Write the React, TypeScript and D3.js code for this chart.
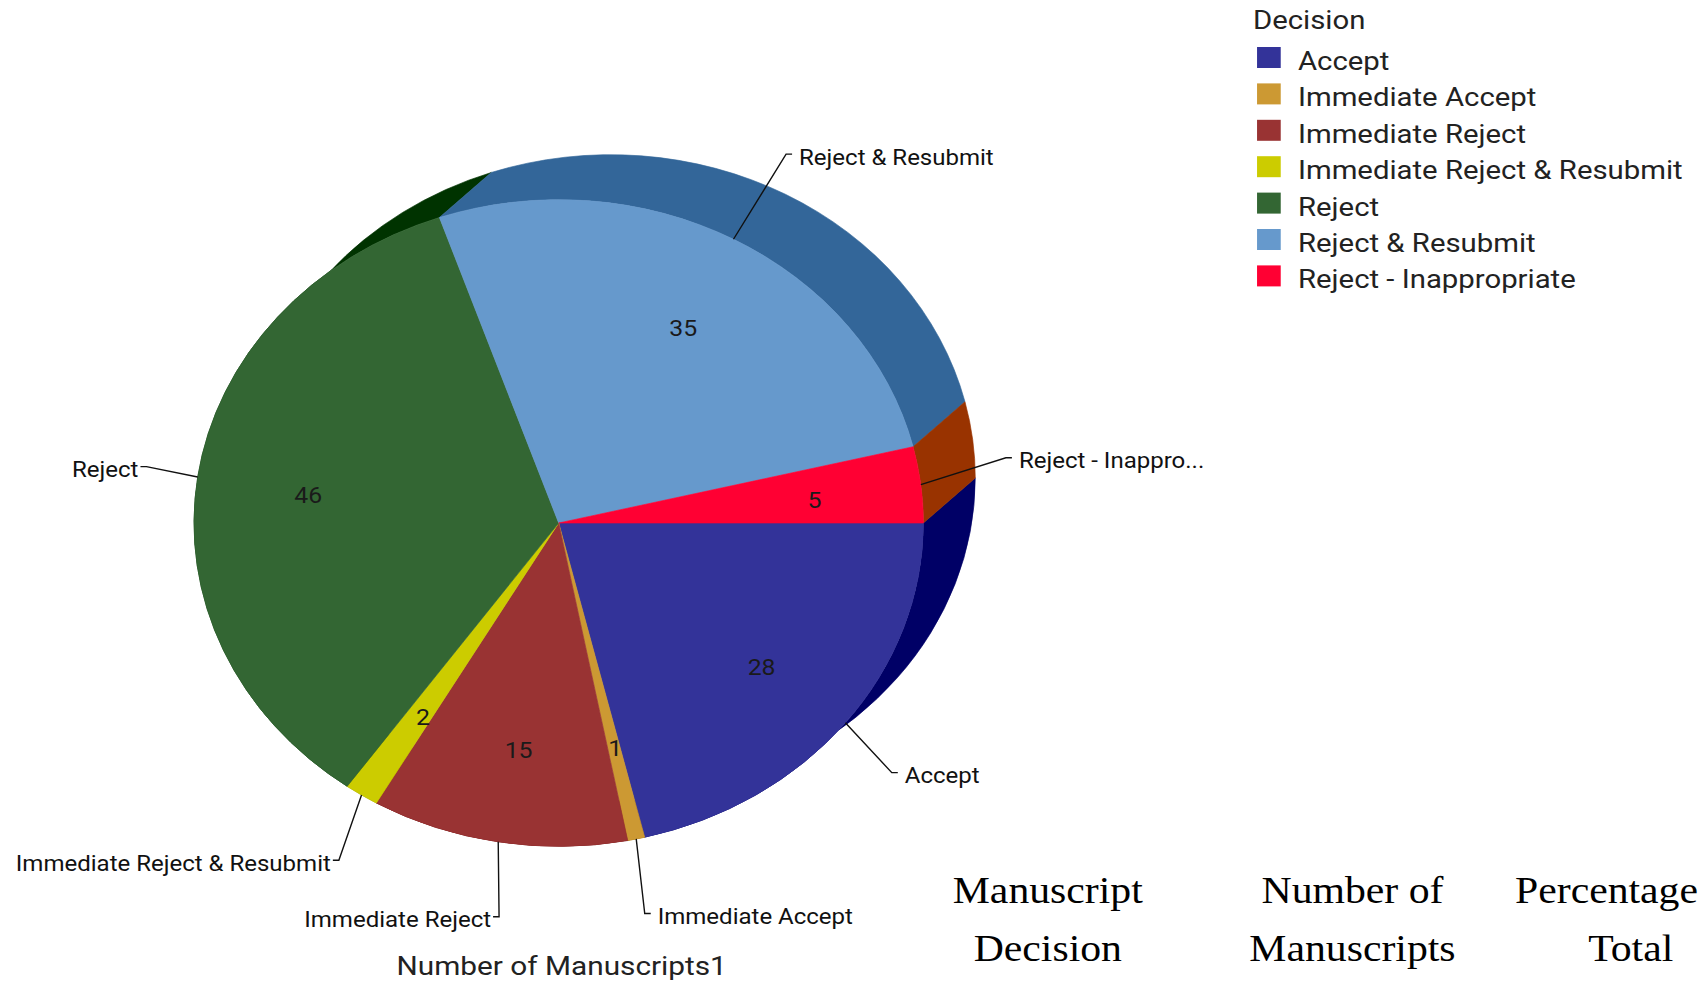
import React from "react";
import * as d3 from "d3";

// ---- data ----
const categories = [
  "Accept",
  "Immediate Accept",
  "Immediate Reject",
  "Immediate Reject & Resubmit",
  "Reject",
  "Reject & Resubmit",
  "Reject - Inappropriate",
];
const values = [28, 1, 15, 2, 46, 35, 5];
const sliceLabels = [
  "Accept",
  "Immediate Accept",
  "Immediate Reject",
  "Immediate Reject & Resubmit",
  "Reject",
  "Reject & Resubmit",
  "Reject - Inappro...",
];
const legendTitle = "Decision";
const chartTitle = "Number of Manuscripts1";
const tableHeaders = [
  ["Manuscript", "Decision"],
  ["Number of", "Manuscripts"],
  ["Percentage", "Total"],
];

// ---- styles ----
const faceColors = ["#333399", "#CC9933", "#993333", "#CCCC00", "#336633", "#6699CC", "#FF0033"];
const sideColors = ["#000066", "#996600", "#660000", "#999900", "#003300", "#336699", "#993300"];
// leader elbow factors (relative to radius) per slice
const leaderKx = [1.162, 1.11, 0.986, 1.115, 1.142, 1.301, 1.235];
const leaderKy = [1.249, 1.236, 1.235, 1.24, 1.226, 1.3, 1.7];

const W = 1701;
const H = 984;
const SX = 1.128; // horizontal stretch of the whole picture
const cx = 495.3;
const cy = 523;
const R = 323.3;
const depthX = 46;
const depthY = -45;
const FONT = "Roboto, 'Noto Sans', sans-serif";
const SERIF = "'Liberation Serif', 'Times New Roman', serif";

export default function App() {
  const arcs = d3
    .pie<number>()
    .sort(null)
    .startAngle(Math.PI / 2)
    .endAngle(Math.PI / 2 + 2 * Math.PI)(values);
  const arcGen = d3.arc<any>().innerRadius(0).outerRadius(R);
  const labelArc = d3.arc<any>().innerRadius(R * 0.7).outerRadius(R * 0.7);

  const bands = arcs.map((d) => {
    const a0 = d.startAngle - Math.PI / 2;
    const a1 = d.endAngle - Math.PI / 2;
    const p = d3.path();
    p.moveTo(cx + R * Math.cos(a0), cy + R * Math.sin(a0));
    p.arc(cx, cy, R, a0, a1, false);
    p.lineTo(cx + depthX + R * Math.cos(a1), cy + depthY + R * Math.sin(a1));
    p.arc(cx + depthX, cy + depthY, R, a1, a0, true);
    p.closePath();
    return p.toString();
  });

  return (
    <svg
      width={W}
      height={H}
      style={{ position: "absolute", left: 0, top: 0, display: "block", background: "#fff" }}
    >
      <g transform={`scale(${SX},1)`}>
        {/* extrusion sides */}
        {bands.map((b, i) => (
          <path key={"b" + i} d={b} fill={sideColors[i]} stroke={sideColors[i]} strokeWidth={0.6} />
        ))}
        {/* front faces */}
        <g transform={`translate(${cx},${cy})`}>
          {arcs.map((d, i) => (
            <path key={"f" + i} d={arcGen(d) as string} fill={faceColors[i]} stroke={faceColors[i]} strokeWidth={0.6} />
          ))}
          {arcs.map((d, i) => {
            const [x, y] = labelArc.centroid(d);
            return (
              <text
                key={"v" + i}
                x={x + 2}
                y={y + 12}
                textAnchor="middle"
                fontFamily={FONT}
                fontSize={22}
                fill="#1a1a1a"
              >
                {values[i]}
              </text>
            );
          })}
        </g>
        {/* leader lines + outside labels */}
        {arcs.map((d, i) => {
          const m = (d.startAngle + d.endAngle) / 2 - Math.PI / 2;
          const c = Math.cos(m);
          const s = Math.sin(m);
          const x0 = cx + R * c;
          const y0 = cy + R * s;
          const x1 = cx + R * leaderKx[i] * c;
          const y1 = cy + R * leaderKy[i] * s;
          const dir = c >= 0 ? 1 : -1;
          const x2 = x1 + (dir * 6) / SX;
          const tx = x1 + (dir * (dir > 0 ? 13 : 8)) / SX;
          return (
            <g key={"l" + i}>
              <polyline
                points={`${x0},${y0} ${x1},${y1} ${x2},${y1}`}
                fill="none"
                stroke="#111"
                strokeWidth={1.4}
                vectorEffect="non-scaling-stroke"
              />
              <text
                x={tx}
                y={y1 + 10.5}
                textAnchor={dir > 0 ? "start" : "end"}
                fontFamily={FONT}
                fontSize={21.3}
                fill="#111"
              >
                {sliceLabels[i]}
              </text>
            </g>
          );
        })}
        {/* chart title */}
        <text x={498} y={975} textAnchor="middle" fontFamily={FONT} fontSize={26.4} fill="#222">
          {chartTitle}
        </text>
        {/* legend */}
        <text x={1110.8} y={29} fontFamily={FONT} fontSize={26} fill="#222">
          {legendTitle}
        </text>
        {categories.map((c, i) => (
          <g key={"lg" + i}>
            <rect x={1114.4} y={70 + i * 36.4 - 23} width={21} height={21} fill={faceColors[i]} />
            <text x={1150.7} y={70 + i * 36.4} fontFamily={FONT} fontSize={26} fill="#222">
              {c}
            </text>
          </g>
        ))}
        {/* table headers */}
        <text x={928.9} y={903} textAnchor="middle" fontFamily={SERIF} fontSize={37} fill="#000">
          {tableHeaders[0][0]}
        </text>
        <text x={928.9} y={961} textAnchor="middle" fontFamily={SERIF} fontSize={37} fill="#000">
          {tableHeaders[0][1]}
        </text>
        <text x={1199} y={903} textAnchor="middle" fontFamily={SERIF} fontSize={37} fill="#000">
          {tableHeaders[1][0]}
        </text>
        <text x={1199} y={961} textAnchor="middle" fontFamily={SERIF} fontSize={37} fill="#000">
          {tableHeaders[1][1]}
        </text>
        <text x={1343.1} y={903} textAnchor="start" fontFamily={SERIF} fontSize={37} fill="#000">
          {tableHeaders[2][0]}
        </text>
        <text x={1445.7} y={961} textAnchor="middle" fontFamily={SERIF} fontSize={37} fill="#000">
          {tableHeaders[2][1]}
        </text>
      </g>
    </svg>
  );
}
